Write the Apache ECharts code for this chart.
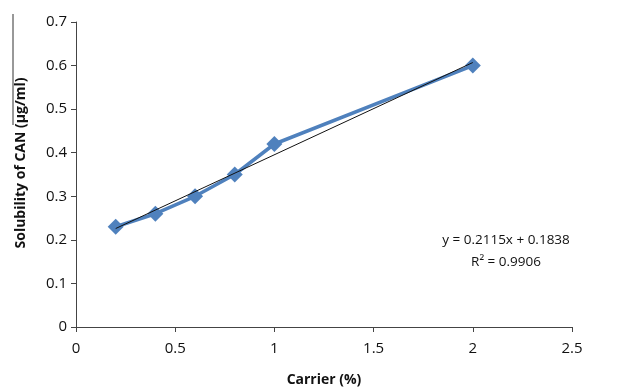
<!DOCTYPE html>
<html><head><meta charset="utf-8">
<script src="https://cdn.jsdelivr.net/npm/echarts@6/dist/echarts.min.js"></script>
<style>html,body{margin:0;padding:0;background:#fff}#c{width:621px;height:392px}</style>
</head><body><div id="c"></div>
<script>
const carrier = [0.2, 0.4, 0.6, 0.8, 1.0, 2.0];
const solubility = [0.23, 0.26, 0.30, 0.35, 0.42, 0.60];
const trendX = [0.2, 2.0];
const trendY = [0.226, 0.607];
const eqText = 'y = 0.2115x + 0.1838';
const r2Text = 'R² = 0.9906';
const xTitle = 'Carrier (%)';
const yTitle = 'Solubility of CAN (µg/ml)';

const font = 'Open Sans, Liberation Sans, sans-serif';
const chart = echarts.init(document.getElementById('c'));
chart.setOption({
  animation: false,
  grid: {left: 76, right: 49, top: 22, bottom: 64},
  xAxis: {
    type: 'value', min: 0, max: 2.5, interval: 0.5,
    axisLine: {lineStyle: {color: '#444', width: 1}},
    axisTick: {show: true, length: 5, lineStyle: {color: '#444'}},
    splitLine: {show: false},
    axisLabel: {color: '#111', fontSize: 15, fontFamily: font, margin: 14},
    name: xTitle, nameLocation: 'middle', nameGap: 46,
    nameTextStyle: {color: '#111', fontSize: 14, fontWeight: 'bold', fontFamily: font}
  },
  yAxis: {
    type: 'value', min: 0, max: 0.7, interval: 0.1,
    axisLine: {show: true, lineStyle: {color: '#444', width: 1}},
    axisTick: {show: true, length: 5, lineStyle: {color: '#444'}},
    splitLine: {show: false},
    axisLabel: {color: '#111', fontSize: 15, fontFamily: font, margin: 9}
  },
  graphic: [
    {type: 'text', x: 21, y: 163, rotation: Math.PI/2,
     style: {text: yTitle, fill: '#111', font: 'bold 14px ' + font, align: 'center', verticalAlign: 'middle'}},
    {type: 'line', shape: {x1: 13, y1: 14, x2: 13, y2: 125}, style: {stroke: '#333', lineWidth: 1}},
    {type: 'text', x: 506, y: 240, style: {text: eqText, fill: '#111', font: '13.5px ' + font, align: 'center', verticalAlign: 'middle'}},
    {type: 'text', x: 506, y: 262, style: {text: r2Text, fill: '#111', font: '13.5px ' + font, align: 'center', verticalAlign: 'middle'}}
  ],
  series: [
    {type: 'line', data: carrier.map((x, i) => [x, solubility[i]]),
     lineStyle: {color: '#4f81bd', width: 3.5}, itemStyle: {color: '#4f81bd'},
     symbol: 'diamond', symbolSize: 16, z: 2},
    {type: 'line', data: trendX.map((x, i) => [x, trendY[i]]),
     lineStyle: {color: '#111', width: 1}, symbol: 'none', z: 3}
  ]
});
</script></body></html>
